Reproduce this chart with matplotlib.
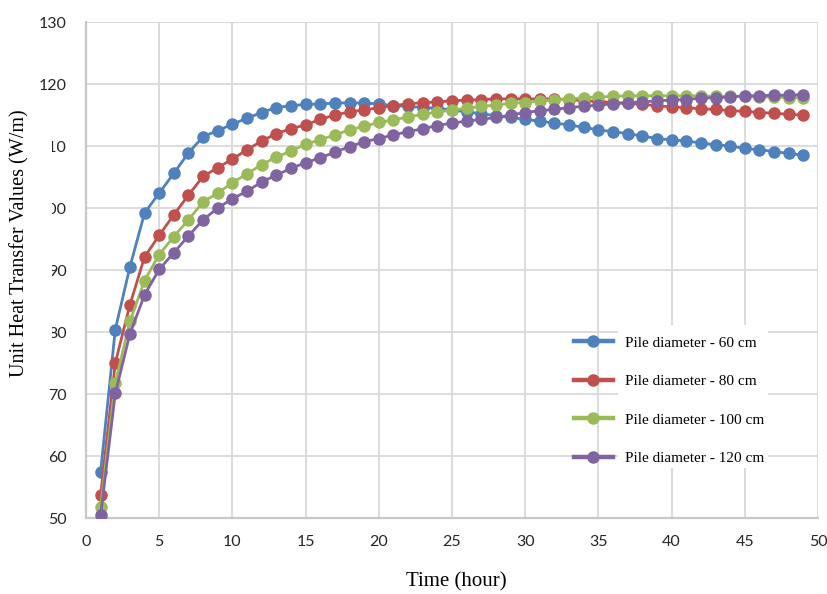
import matplotlib
matplotlib.use("Agg")
import matplotlib.pyplot as plt
from matplotlib.patches import Rectangle

# time steps (hour)
hours = list(range(1, 50))

# unit heat transfer values (W/m) for each pile diameter
pile_60 = [57.5, 80.4, 90.5, 99.2, 102.4, 105.6, 108.9, 111.5, 112.5, 113.5,
           114.5, 115.4, 116.2, 116.5, 116.7, 116.8, 116.9, 117.0, 116.9, 116.8,
           116.5, 116.4, 116.2, 116.1, 115.8, 115.5, 115.2, 114.9, 114.6, 114.3,
           114.0, 113.7, 113.4, 113.0, 112.6, 112.3, 112.0, 111.6, 111.2, 111.0,
           110.8, 110.5, 110.2, 110.0, 109.6, 109.4, 109.1, 108.8, 108.5]
pile_80 = [53.7, 75.0, 84.4, 92.1, 95.6, 98.9, 102.1, 105.1, 106.5, 107.9,
           109.4, 110.8, 112.0, 112.8, 113.4, 114.3, 115.0, 115.5, 115.8, 116.2,
           116.5, 116.8, 117.0, 117.1, 117.3, 117.4, 117.5, 117.6, 117.6, 117.6,
           117.6, 117.6, 117.5, 117.3, 117.2, 117.0, 116.9, 116.7, 116.5, 116.3,
           116.2, 116.0, 115.9, 115.7, 115.6, 115.4, 115.3, 115.1, 115.0]
pile_100 = [51.8, 71.8, 81.7, 88.3, 92.5, 95.4, 98.1, 101.0, 102.4, 104.1,
            105.5, 107.0, 108.2, 109.2, 110.3, 111.0, 111.8, 112.6, 113.2, 113.8,
            114.2, 114.7, 115.1, 115.5, 115.8, 116.1, 116.4, 116.6, 116.9, 117.0,
            117.3, 117.4, 117.6, 117.8, 117.9, 118.0, 118.1, 118.1, 118.1, 118.1,
            118.1, 118.1, 118.0, 118.0, 118.0, 117.9, 117.9, 117.8, 117.8]
pile_120 = [50.5, 70.1, 79.7, 86.0, 90.1, 92.8, 95.5, 98.1, 100.0, 101.5,
            102.7, 104.2, 105.3, 106.4, 107.3, 108.1, 109.0, 109.9, 110.7, 111.2,
            111.8, 112.3, 112.8, 113.3, 113.7, 114.0, 114.3, 114.6, 115.0, 115.4,
            115.7, 115.9, 116.2, 116.4, 116.6, 116.8, 117.0, 117.1, 117.3, 117.4,
            117.5, 117.7, 117.8, 117.9, 118.1, 118.1, 118.2, 118.2, 118.3]

labels = ["Pile diameter - 60 cm", "Pile diameter - 80 cm",
          "Pile diameter - 100 cm", "Pile diameter - 120 cm"]
colors = ["#4F81BD", "#C0504D", "#9BBB59", "#8064A2"]

fig = plt.figure(figsize=(8.28, 5.94), dpi=100)
ax = fig.add_axes([86/828, 1-518/594, 732/828, 496/594])

for vals, lab, c in zip([pile_60, pile_80, pile_100, pile_120], labels, colors):
    ax.plot(hours, vals, color=c, lw=2.0, marker="o", ms=8, label=lab, zorder=3)

ax.set_xlim(0, 50)
ax.set_ylim(50, 130)
ax.set_xticks(range(0, 51, 5))
ax.set_yticks(range(50, 131, 10))
ax.grid(True, color="#D9D9D9", lw=1.3)
ax.set_axisbelow(True)
for s in ["top", "right"]:
    ax.spines[s].set_visible(False)
for s in ["left", "bottom"]:
    ax.spines[s].set_color("#C8C8C8")
    ax.spines[s].set_linewidth(1.6)
ax.tick_params(axis="y", length=0, labelsize=11.5, labelcolor="#262626", pad=14)
ax.tick_params(axis="x", length=0, labelsize=11.5, labelcolor="#262626", pad=12)
for t in ax.get_xticklabels() + ax.get_yticklabels():
    t.set_family("Lato")

# white area behind legend text (hides grid there, like the original)
ax.add_patch(Rectangle((0.727, 0.101), 0.205, 0.288, transform=ax.transAxes,
                       facecolor="white", edgecolor="none", zorder=1))
leg = ax.legend(loc="upper left", bbox_to_anchor=(0.666, 0.367), frameon=False,
                prop={"family": "Liberation Serif", "size": 11},
                labelspacing=1.62, handlelength=2.6, handletextpad=0.8,
                borderpad=0, borderaxespad=0)
for ln in leg.get_lines():
    ln.set_linewidth(3.2)

fig.text(0.551, 0.02, "Time (hour)", ha="center", va="center",
         family="Liberation Serif", fontsize=15)
# y label sits on a white box which covers part of the tick labels
fig.patches.append(Rectangle((0, 1-382/594), 52/828, 272/594,
                             transform=fig.transFigure, facecolor="white",
                             edgecolor="none", zorder=1))
fig.text(20/828, 1-243/594, "Unit Heat Transfer Values (W/m)", rotation=90,
         ha="center", va="center", family="Liberation Serif", fontsize=14.5,
         zorder=2)

fig.savefig("out.png", dpi=100)
